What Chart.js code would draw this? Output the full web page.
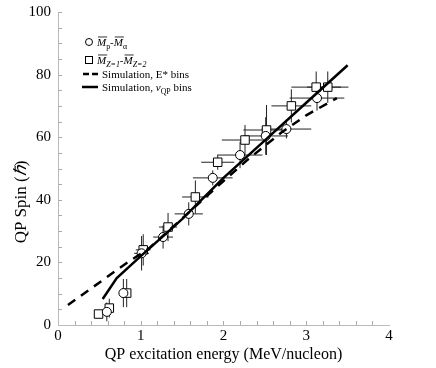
<!DOCTYPE html>
<html>
<head>
<meta charset="utf-8">
<script src="https://cdn.jsdelivr.net/npm/chart.js@4/dist/chart.umd.min.js"></script>
<style>
  html, body { margin: 0; padding: 0; background: #fff; }
</style>
</head>
<body>
<canvas id="spinChart" width="436" height="368"></canvas>
<script>
// Mp - Malpha (circles)
const circleX    = [0.59, 0.79, 1.01, 1.27, 1.58, 1.87, 2.20, 2.51, 2.76, 3.13];
const circleY    = [4.2, 10.2, 22.9, 28.1, 35.5, 47.0, 54.3, 60.4, 62.6, 72.5];
const circleXErr = [0.03, 0.05, 0.09, 0.12, 0.17, 0.24, 0.27, 0.27, 0.30, 0.33];
const circleYErr = [3, 4.5, 5.5, 3.7, 3.7, 2.4, 4.2, 6, 3, 4];

// MZ=1 - MZ=2 (squares)
const squareX    = [0.49, 0.62, 0.83, 1.03, 1.33, 1.66, 1.93, 2.26, 2.52, 2.82, 3.12, 3.26];
const squareY    = [3.5, 5.4, 10.2, 24.0, 31.3, 40.9, 52.0, 59.1, 62.3, 70.0, 76.0, 76.0];
const squareXErr = [0, 0.03, 0.05, 0.09, 0.11, 0.16, 0.20, 0.28, 0.28, 0.24, 0.30, 0.25];
const squareYErr = [0, 3, 4.5, 5, 4.5, 5.3, 2.4, 4.8, 8, 5.3, 5, 5];

// simulation curves
const simEX = [0.12, 0.83, 1.1, 1.5, 2.0, 2.3, 2.7, 3.0, 3.37];
const simEY = [6.4, 19.8, 24.5, 34, 46, 53, 61.5, 67, 72.5];
const simVX = [0.54, 0.71, 1.0, 1.5, 2.0, 2.5, 3.0, 3.5];
const simVY = [8.3, 15, 22, 33.8, 47, 59, 71, 83];

const xTickLabels = [0, 1, 2, 3, 4];
const yTickLabels = [0, 20, 40, 60, 80, 100];

const serif = "'Liberation Serif', 'Times New Roman', serif";
Chart.defaults.font.family = serif;
Chart.defaults.color = '#000';

function toPoints(xs, ys) {
  return xs.map((x, i) => ({ x: x, y: ys[i] }));
}

// error bars, drawn under the markers
const errorBars = {
  id: 'errorBars',
  beforeDatasetsDraw(chart) {
    const { ctx, scales: { x, y } } = chart;
    ctx.save();
    ctx.strokeStyle = '#222';
    ctx.lineWidth = 1;
    const sets = [[circleX, circleY, circleXErr, circleYErr], [squareX, squareY, squareXErr, squareYErr]];
    sets.forEach(([xs, ys, xe, ye]) => {
      xs.forEach((v, i) => {
        const px = x.getPixelForValue(v);
        const py = y.getPixelForValue(ys[i]);
        ctx.beginPath();
        if (xe[i] > 0) {
          ctx.moveTo(x.getPixelForValue(v - xe[i]), py);
          ctx.lineTo(x.getPixelForValue(v + xe[i]), py);
        }
        if (ye[i] > 0) {
          ctx.moveTo(px, y.getPixelForValue(ys[i] - ye[i]));
          ctx.lineTo(px, y.getPixelForValue(ys[i] + ye[i]));
        }
        ctx.stroke();
      });
    });
    ctx.restore();
  }
};

// text pieces with italics / subscripts / overline
function drawRuns(ctx, runs, x, y, size) {
  runs.forEach(r => {
    const fs = r.sub ? size * 0.72 : size;
    ctx.font = (r.italic ? 'italic ' : '') + fs + 'px ' + serif;
    const yy = r.sub ? y + size * 0.28 : y;
    ctx.fillText(r.t, x, yy);
    const w = ctx.measureText(r.t).width;
    if (r.over) {
      ctx.beginPath();
      ctx.lineWidth = 0.8;
      ctx.moveTo(x + 1, y - size * 0.82);
      ctx.lineTo(x + w + 1, y - size * 0.82);
      ctx.stroke();
    }
    x += w;
  });
}

const decorations = {
  id: 'decorations',
  afterDraw(chart) {
    const { ctx, chartArea, scales: { x, y } } = chart;
    ctx.save();
    // inward minor ticks
    ctx.strokeStyle = '#aaa';
    ctx.lineWidth = 1;
    ctx.beginPath();
    for (let v = 0.2; v < 4; v += 0.2) {
      const px = Math.round(x.getPixelForValue(v)) + 0.5;
      ctx.moveTo(px, chartArea.bottom);
      ctx.lineTo(px, chartArea.bottom - 4);
    }
    for (let v = 5; v <= 100; v += 5) {
      const py = Math.round(y.getPixelForValue(v)) + 0.5;
      ctx.moveTo(chartArea.left, py);
      ctx.lineTo(chartArea.left + 4, py);
    }
    ctx.stroke();

    // y axis title
    ctx.fillStyle = '#000';
    ctx.save();
    ctx.translate(22, 202);
    ctx.rotate(-Math.PI / 2);
    ctx.textBaseline = 'middle';
    ctx.font = '17px ' + serif;
    const a = 'QP Spin (', b = 'ℏ', c = ')';
    const wa = ctx.measureText(a).width, wc = ctx.measureText(c).width;
    ctx.font = 'italic 17px ' + serif;
    const wb = ctx.measureText(b).width;
    let sx = -(wa + wb + wc) / 2;
    ctx.textAlign = 'left';
    ctx.font = '17px ' + serif;
    ctx.fillText(a, sx, 0); sx += wa;
    ctx.font = 'italic 17px ' + serif;
    ctx.fillText(b, sx, 0); sx += wb;
    ctx.font = '17px ' + serif;
    ctx.fillText(c, sx, 0);
    ctx.restore();

    // legend
    const size = 11;
    ctx.strokeStyle = '#000';
    ctx.fillStyle = '#000';
    ctx.textBaseline = 'alphabetic';
    ctx.lineWidth = 1;
    ctx.beginPath();
    ctx.arc(89, 42, 3.5, 0, Math.PI * 2);
    ctx.stroke();
    ctx.strokeRect(85.5, 56.5, 7, 7);
    drawRuns(ctx, [
      { t: 'M', italic: true, over: true }, { t: 'p', sub: true }, { t: '-' },
      { t: 'M', italic: true, over: true }, { t: 'α', sub: true }
    ], 97, 46, size);
    drawRuns(ctx, [
      { t: 'M', italic: true, over: true }, { t: 'Z=1', sub: true, italic: true }, { t: '-' },
      { t: 'M', italic: true, over: true }, { t: 'Z=2', sub: true, italic: true }
    ], 97, 64, size);
    ctx.lineWidth = 2.5;
    ctx.beginPath();
    ctx.moveTo(83, 74); ctx.lineTo(89, 74);
    ctx.moveTo(92, 74); ctx.lineTo(98, 74);
    ctx.moveTo(82, 87); ctx.lineTo(98, 87);
    ctx.stroke();
    drawRuns(ctx, [{ t: 'Simulation, E* bins' }], 102, 78, size);
    drawRuns(ctx, [{ t: 'Simulation, ' }, { t: 'v', italic: true }, { t: 'QP', sub: true }, { t: ' bins' }], 102, 91, size);
    ctx.restore();
  }
};

new Chart(document.getElementById('spinChart'), {
  type: 'scatter',
  data: {
    datasets: [
      {
        label: 'Simulation, E* bins',
        data: toPoints(simEX, simEY),
        showLine: true,
        borderColor: '#000',
        borderWidth: 2.5,
        borderDash: [9, 7],
        pointRadius: 0,
        tension: 0
      },
      {
        label: 'Simulation, vQP bins',
        data: toPoints(simVX, simVY),
        showLine: true,
        borderColor: '#000',
        borderWidth: 2.5,
        pointRadius: 0,
        tension: 0
      },
      {
        label: 'Mp-Malpha',
        data: toPoints(circleX, circleY),
        pointStyle: 'circle',
        pointRadius: 4.5,
        borderColor: '#000',
        borderWidth: 1,
        backgroundColor: '#fff'
      },
      {
        label: 'MZ=1-MZ=2',
        data: toPoints(squareX, squareY),
        pointStyle: 'rect',
        pointRadius: 6,
        borderColor: '#000',
        borderWidth: 1,
        backgroundColor: '#fff'
      }
    ]
  },
  options: {
    responsive: false,
    animation: false,
    layout: { padding: { top: 12, right: 47, left: 0, bottom: 0 } },
    plugins: { legend: { display: false }, tooltip: { enabled: false } },
    scales: {
      x: {
        type: 'linear',
        min: 0,
        max: 4,
        afterBuildTicks: s => { s.ticks = xTickLabels.map(v => ({ value: v })); },
        afterFit: s => { s.height = 43; s.paddingLeft = 0; s.paddingRight = 0; },
        grid: { display: false, drawTicks: false },
        border: { display: true, color: '#bbb', width: 1 },
        ticks: { font: { size: 15 }, padding: 2, maxRotation: 0 },
        title: { display: true, text: 'QP excitation energy (MeV/nucleon)', font: { size: 16 }, padding: { top: 0 } }
      },
      y: {
        type: 'linear',
        min: 0,
        max: 100,
        afterBuildTicks: s => { s.ticks = yTickLabels.map(v => ({ value: v })); },
        afterFit: s => { s.width = 58; s.paddingTop = 0; s.paddingBottom = 0; },
        grid: { display: false, drawTicks: false },
        border: { display: true, color: '#bbb', width: 1 },
        ticks: { font: { size: 15 }, padding: 7 }
      }
    }
  },
  plugins: [errorBars, decorations]
});
</script>
</body>
</html>
